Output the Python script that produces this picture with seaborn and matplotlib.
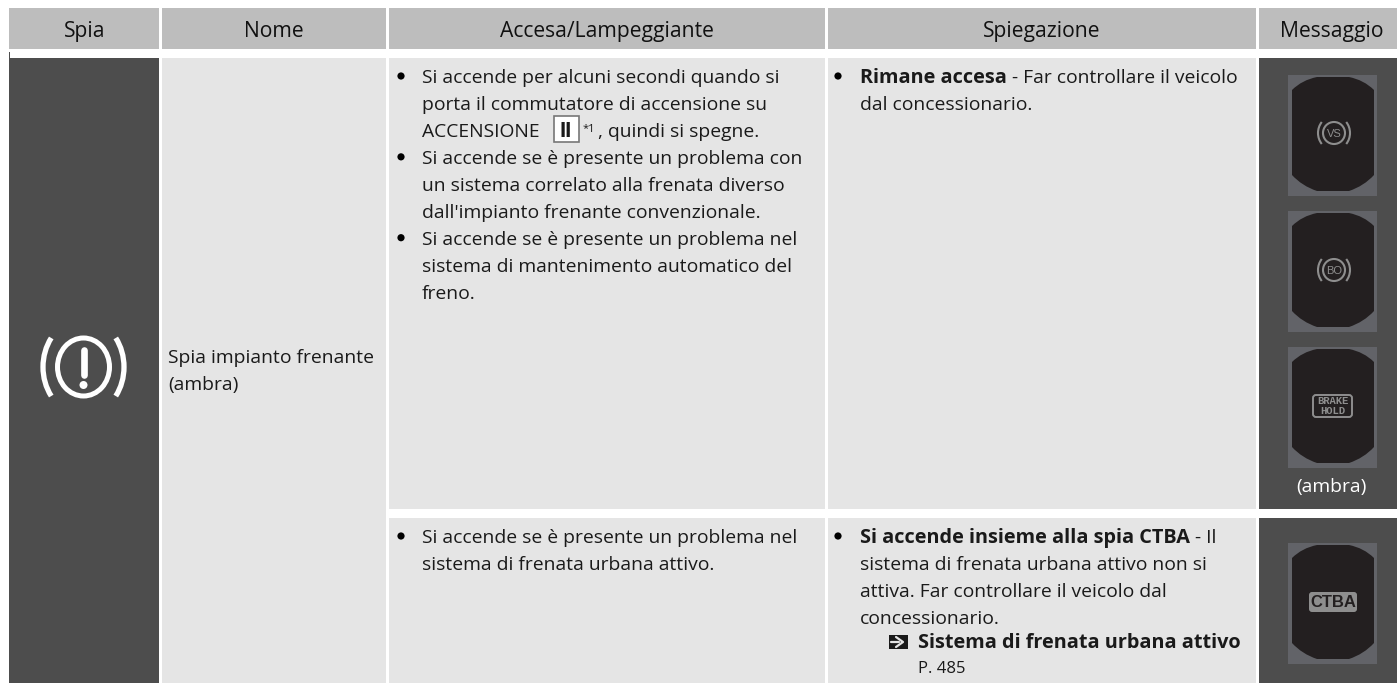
import numpy as np
import matplotlib
matplotlib.use('Agg')
import matplotlib.pyplot as plt
import seaborn as sns
from matplotlib.patches import Rectangle, Circle, Ellipse, Arc, PathPatch, FancyBboxPatch
from matplotlib.path import Path

# Table content
headers = ['Spia', 'Nome', 'Accesa/Lampeggiante', 'Spiegazione', 'Messaggio']
name_lines = ['Spia impianto frenante', '(ambra)']
status_row1 = [
    'Si accende per alcuni secondi quando si',
    'porta il commutatore di accensione su',
    'ACCENSIONE',
    'Si accende se è presente un problema con',
    'un sistema correlato alla frenata diverso',
    "dall'impianto frenante convenzionale.",
    'Si accende se è presente un problema nel',
    'sistema di mantenimento automatico del',
    'freno.',
]
status_row2 = ['Si accende se è presente un problema nel', 'sistema di frenata urbana attivo.']
switch_label = 'II'
switch_note = '*1'
switch_tail = ', quindi si spegne.'
why_row1_bold = 'Rimane accesa'
why_row1_rest = ' - Far controllare il veicolo'
why_row1_line2 = 'dal concessionario.'
why_row2_bold = 'Si accende insieme alla spia CTBA'
why_row2_rest = ' - Il'
why_row2_lines = ['sistema di frenata urbana attivo non si', 'attiva. Far controllare il veicolo dal', 'concessionario.']
link_text = 'Sistema di frenata urbana attivo'
link_page = 'P. 485'
amber_note = '(ambra)'
icon_labels = ['VS', 'BO']
hold_label = 'BRAKE\nHOLD'
ctba_label = 'CTBA'

# Layout in pixels
W, H = 1397, 683
col_left = [9, 162, 389, 828, 1259]
col_right = [159, 386, 825, 1256, 1397]
head_x = [85, 274, 607, 1042, 1332]
row_top = [58, 518]
row_bot = [509, 683]
LINE = 26.95
FS = 13.9
FS_BOLD = 14.3
FS_HEAD = 15.2

HEAD = '#bdbdbd'
LIGHT = '#e5e5e5'
DARK = '#4d4d4d'
PANEL = '#626368'
SCREEN = '#231f20'
GLYPH = '#8e8e8e'

sns.set_theme(style='white')
plt.rcParams['font.family'] = ['Open Sans', 'DejaVu Sans']

fig = plt.figure(figsize=(W / 100, H / 100), dpi=100, facecolor='white')
ax = fig.add_axes([0, 0, 1, 1])
ax.set_xlim(0, W)
ax.set_ylim(H, 0)
ax.axis('off')
sns.despine(ax=ax, left=True, bottom=True)
rend = fig.canvas.get_renderer()


def box(x0, y0, x1, y1, color, z=1):
    ax.add_patch(Rectangle((x0, y0), x1 - x0, y1 - y0, fc=color, ec='none', lw=0, zorder=z))


def txt(x, y, s, weight='normal', color='#1a1a1a', size=FS, ha='left', **kw):
    return ax.text(x, y, s, fontsize=size, fontweight=weight, color=color, ha=ha, va='baseline', zorder=5, **kw)


def end_of(t):
    return t.get_window_extent(rend).x1


def bullet(x, y):
    ax.add_patch(Circle((x, y), 3.6, fc='black', ec='none', zorder=5))


def panel(top):
    x0 = 1288
    box(x0, top, 1377, top + 121, PANEL, z=2)
    verts = [(29, 2), (61, 2), (76, 5), (86, 15), (86, 100), (76, 111), (61, 116), (29, 116),
             (14, 111), (4, 100), (4, 15), (14, 5), (29, 2), (29, 2)]
    codes = [Path.MOVETO, Path.LINETO, Path.CURVE3, Path.CURVE3, Path.LINETO, Path.CURVE3, Path.CURVE3,
             Path.LINETO, Path.CURVE3, Path.CURVE3, Path.LINETO, Path.CURVE3, Path.CURVE3, Path.CLOSEPOLY]
    pts = np.array(verts, dtype=float) + [x0, top]
    ax.add_patch(PathPatch(Path(pts, codes), fc=SCREEN, ec='none', zorder=3))


# Cell backgrounds
for left, right in zip(col_left, col_right):
    box(left, 8, right, 49, HEAD)
box(col_left[0], 58, col_right[0], 683, DARK)
box(9, 52, 10, 58, DARK)
for top, bot in zip(row_top, row_bot):
    box(col_left[4], top, col_right[4], bot, DARK)
    box(col_left[2], top, col_right[2], bot, LIGHT)
    box(col_left[3], top, col_right[3], bot, LIGHT)
box(col_left[1], 58, col_right[1], 683, LIGHT)

# Header text
for x, head in zip(head_x, headers):
    txt(x, 37, head, ha='center', color='#111111', size=FS_HEAD)

# Name column
txt(168, 363, name_lines[0])
txt(168, 390, name_lines[1])

# Warning lamp symbol
cx, cy = 83.5, 367
ax.add_patch(Ellipse((cx, cy), 52, 58, fc='none', ec='white', lw=3.6, zorder=5))
ax.add_patch(Arc((cx, cy), 81, 96, theta1=-42, theta2=42, ec='white', lw=3.8, zorder=5))
ax.add_patch(Arc((cx, cy), 81, 96, theta1=138, theta2=222, ec='white', lw=3.8, zorder=5))
ax.plot([cx, cx], [350, 375], color='white', lw=4.8, solid_capstyle='round', zorder=5)
ax.add_patch(Circle((cx, 385), 4, fc='white', ec='none', zorder=5))

# Accesa column, first row
y0 = 83
bx, tx = 401, 422
for i, line in enumerate(status_row1):
    y = y0 + i * LINE
    if i in (0, 3, 6):
        bullet(bx, y - 7)
    txt(tx, y, line)
    if i == 2:
        # ignition switch position box
        ax.add_patch(Rectangle((553.5, y - 21), 25, 26, fc='white', ec='#777777', lw=1.2, zorder=5))
        txt(566, y + 0.5, switch_label, weight='bold', ha='center', size=16, family='Liberation Sans')
        txt(583, y - 5, switch_note, size=8)
        txt(598, y, switch_tail)

# Accesa column, second row
y0 = 543
bullet(bx, y0 - 7)
for i, line in enumerate(status_row2):
    txt(tx, y0 + i * LINE, line)

# Spiegazione column
bx2, tx2 = 838, 860
bullet(bx2, 76)
t = txt(tx2, 83, why_row1_bold, weight='bold', size=FS_BOLD)
txt(end_of(t), 83, why_row1_rest)
txt(tx2, 83 + LINE, why_row1_line2)

bullet(bx2, 536)
t = txt(tx2, 543, why_row2_bold, weight='bold', size=FS_BOLD)
txt(end_of(t), 543, why_row2_rest)
for i, line in enumerate(why_row2_lines):
    txt(tx2, 543 + (i + 1) * LINE, line)

# Cross reference arrow
box(889, 635, 908, 649, '#1a1a1a', z=5)
ax.plot([891, 899], [642, 642], color=LIGHT, lw=1.6, zorder=6)
ax.plot([896, 903, 896], [637, 642, 647], color=LIGHT, lw=1.6, zorder=6)
txt(918, 648, link_text, weight='bold', size=FS_BOLD)
txt(918, 673, link_page, size=12)

# Messaggio column
for top in (75, 211, 347, 543):
    panel(top)
for label, cy_ in zip(icon_labels, (133, 270)):
    ax.add_patch(Circle((1334, cy_), 11, fc='none', ec=GLYPH, lw=1.5, zorder=5))
    ax.add_patch(Arc((1334, cy_), 32, 34, theta1=-42, theta2=42, ec=GLYPH, lw=1.5, zorder=5))
    ax.add_patch(Arc((1334, cy_), 32, 34, theta1=138, theta2=222, ec=GLYPH, lw=1.5, zorder=5))
    txt(1334, cy_ + 4, label, color=GLYPH, ha='center', size=8, family='Liberation Sans')

ax.add_patch(FancyBboxPatch((1313, 395), 39, 22, boxstyle='round,pad=0,rounding_size=3',
                            fc='none', ec=GLYPH, lw=1.4, zorder=5))
ax.text(1332.5, 406, hold_label, color=GLYPH, fontsize=7.6, fontweight='bold', ha='center', va='center',
        family='Liberation Mono', linespacing=1.0, zorder=5)

ax.add_patch(FancyBboxPatch((1309, 592), 48, 20, boxstyle='round,pad=0,rounding_size=3',
                            fc=GLYPH, ec='none', zorder=5))
ax.text(1333, 602.5, ctba_label, color=SCREEN, fontsize=12, fontweight='bold', ha='center', va='center',
        family='Liberation Sans', zorder=6)

txt(1331, 492, amber_note, color='white', ha='center')

fig.savefig('out.png', dpi=100, facecolor='white')
